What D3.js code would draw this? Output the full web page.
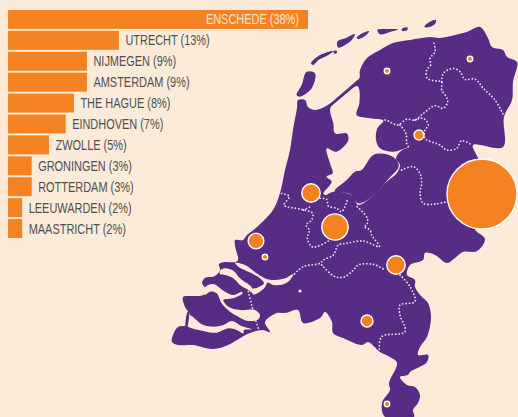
<!DOCTYPE html>
<html><head><meta charset="utf-8">
<script src="https://cdnjs.cloudflare.com/ajax/libs/d3/7.8.5/d3.min.js"></script>
<style>html,body{margin:0;padding:0;background:#fdebd9}svg{display:block}
text{font-family:"Liberation Sans",sans-serif;font-size:14.5px}</style>
</head><body><svg id="c" width="518" height="417"></svg>
<script>
// --- chart data ---
const cities = ["ENSCHEDE","UTRECHT","NIJMEGEN","AMSTERDAM","THE HAGUE","EINDHOVEN","ZWOLLE","GRONINGEN","ROTTERDAM","LEEUWARDEN","MAASTRICHT"];
const percentLabels = [38,13,9,9,8,7,5,3,3,2,2];
const shares = [38,14.05,10,10,8.35,7.3,5.2,3,3,1.8,1.8];   // bar lengths as drawn
const bubbleShares = [38,14.3,10,10,8.5,6.5,5.4,3,3,3,3];   // bubble sizes as drawn
const cityLon = [482,335,396,311,256,367,419,470,265,387,387];
const cityLat = [194,227,265,193,241,321,135,59,257,71,404];
const minorCity = [[300,291]];

// --- map geometry (each ring is in the units of its map sheet) ---
const coastMain = [[236,250],[235,245],[235,240],[243,240],[247,235],[257,227],[273,210],[280,193],[285,170],[290,150],[293,130],[297,108],[298,100],[305,100],[308,107],[315,110],[328,105],[359,79],[360,70],[367,58],[380,50],[393,43],[410,40],[430,37],[440,38],[455,35],[467,32],[480,27],[488,38],[492,47],[503,50],[507,57],[517,62],[513,82],[512,100],[504,117],[503,147],[473,145],[478,158],[482,170],[482,215],[475,229],[485,239],[477,251],[463,252],[455,258],[447,263],[435,255],[425,253],[423,260],[410,265],[407,275],[415,280],[415,287],[422,297],[428,303],[431,317],[427,337],[420,347],[418,355],[428,355],[427,362],[410,372],[408,375],[400,377],[407,385],[415,387],[420,395],[418,403],[413,410],[414,417],[385,417],[382,403],[390,390],[389,383],[397,363],[390,357],[380,352],[368,342],[362,345],[343,338],[333,333],[332,322],[325,312],[320,318],[303,323],[298,310],[285,313],[277,313],[265,322],[270,332],[262,330],[250,333],[242,337],[228,345],[213,349],[193,345],[178,345],[172,342],[173,335],[178,327],[187,325],[190,315],[185,307],[183,297],[190,296],[203,295],[205,288],[202,283],[205,278],[215,276],[220,270],[219,264],[225,262],[235,262],[238,260]];
const ijsselmeer = [[122,50],[202,-12],[208,0],[208,40],[200,75],[240,85],[280,92],[262,115],[258,150],[270,175],[310,185],[358,170],[330,185],[318,205],[330,225],[320,250],[290,275],[262,305],[240,325],[205,345],[190,320],[170,310],[130,305],[105,315],[100,310],[125,275],[110,260],[128,250],[120,220],[110,175],[140,185],[175,150],[170,130],[135,130],[130,100]];
const afsluitdijk = [[83,287],[175,208],[181,215],[90,292]];
const flevoland = [[135,300],[170,270],[195,245],[215,240],[250,195],[290,193],[320,210],[326,230],[294,268],[274,293],[244,322],[205,340],[180,312],[135,305]];
const texel = [[-10,255],[5,225],[20,185],[45,190],[35,235],[0,260]];
const vlieland = [[33,160],[60,135],[100,123],[85,135],[55,150],[40,165]];
const griend = [[100,124],[110,122],[110,130],[102,130]];
const terschelling = [[112,95],[135,85],[165,72],[155,90],[135,105],[115,113]];
const ameland = [[170,83],[190,68],[208,63],[195,78],[175,87]];
const schier = [[232,60],[260,57],[295,58],[270,66],[240,73]];
const rottum = [[305,57],[322,52],[322,60],[307,63]];
const borkum = [[373,50],[390,35],[408,30],[405,42],[385,52]];
const deltaWater = [
  [[195,38],[225,45],[260,70],[290,87],[315,90],[345,85],[370,72],[360,90],[340,103],[310,105],[292,98],[285,112],[262,130],[250,133],[245,118],[262,113],[282,100],[270,85],[245,70],[205,50]],
  [[150,62],[165,55],[190,62],[210,85],[245,112],[250,130],[235,120],[210,105],[190,85],[165,75],[150,72]],
  [[100,132],[105,112],[130,102],[160,122],[190,135],[215,125],[218,130],[190,145],[160,150],[175,170],[210,180],[255,180],[270,195],[262,210],[230,212],[205,200],[180,185],[155,160],[140,130],[120,125],[105,135]],
  [[55,192],[65,198],[100,225],[130,230],[160,225],[185,213],[215,228],[245,238],[222,240],[220,250],[200,240],[175,235],[140,248],[100,243],[48,224]]
];
const deltaCauseway = [[53,185],[57,185],[51,232],[47,232]];
const bordersNorth = [
  [[402,100],[405,125],[390,145],[392,165],[380,180],[382,205],[410,213],[425,215],[425,240],[440,262],[443,275],[430,295],[405,287],[370,310],[345,330],[320,328],[300,342],[290,345],[258,330],[250,330]],
  [[425,215],[430,190],[460,175],[480,185],[495,208],[525,207],[550,235],[585,270],[612,318]],
  [[300,345],[318,370],[320,400],[325,410]],
  [[345,330],[370,325],[385,345],[375,360],[375,385],[420,405],[440,420],[470,415],[485,392],[515,405]],
  [[305,480],[340,470],[360,490],[365,520],[360,550],[370,580],[405,582],[440,575]]
];
const bordersMiddle = [
  [[35,70],[58,80],[42,105],[95,118],[128,130],[125,150],[108,165],[118,180],[112,205],[125,230],[140,230],[175,213]],
  [[100,120],[125,108]],
  [[150,85],[170,88],[175,108],[200,115],[215,125],[232,90]],
  [[262,110],[292,145],[290,165],[282,170],[300,180],[305,195],[328,230],[280,213],[230,220],[205,225],[190,255],[160,270],[150,280],[100,290],[70,315]],
  [[155,285],[195,320],[225,320],[250,300],[265,285],[310,283],[345,300]]
];
const bordersSouth = [
  [[300,225],[305,230],[330,260],[345,305],[300,315],[300,345],[315,395],[245,410],[238,450]]
];
const bordersDelta = [
  [[235,125],[245,165],[255,205],[265,235]]
];

// --- drawing ---
const W = 518, H = 417, BG = "#fdebd9", PURPLE = "#562c85", ORANGE = "#f58220";
const svg = d3.select("#c");
svg.append("rect").attr("width",W).attr("height",H).attr("fill",BG);

function sheet(x0,y0,k,curve){
  const sx = d3.scaleLinear().domain([0,1]).range([x0,x0+k]);
  const sy = d3.scaleLinear().domain([0,1]).range([y0,y0+k]);
  return d3.line().x(d=>sx(d[0])).y(d=>sy(d[1])).curve(curve);
}
const closed = d3.curveCatmullRomClosed.alpha(0.5), open = d3.curveCatmullRom.alpha(0.5);
const lineMap   = sheet(0,0,1,closed);
const lineNorth = sheet(300,10,1/3,closed);
const lineNorthStraight = sheet(300,10,1/3,d3.curveLinearClosed);
const lineLake  = sheet(290,90,1/3,closed);
const lineDelta = sheet(170,250,1/3,closed);
const dotNorth = sheet(300,10,1/3,open), dotMid = sheet(270,170,1/3,open),
      dotSouth = sheet(300,200,1/3,open), dotDelta = sheet(170,250,1/3,open);
const map = svg.append("g");
const fillRing = (gen,pts,col)=>map.append("path").attr("d",gen(pts)).attr("fill",col);

fillRing(lineMap,coastMain,PURPLE);
fillRing(lineLake,ijsselmeer,BG);
fillRing(lineLake,flevoland,PURPLE);
fillRing(lineNorthStraight,afsluitdijk,PURPLE);
[texel,vlieland,griend,terschelling,ameland,schier,rottum,borkum].forEach(r=>fillRing(lineNorth,r,PURPLE));
deltaWater.forEach(r=>fillRing(lineDelta,r,BG));
fillRing(lineDelta,deltaCauseway,PURPLE);

const dotted = (gen,pts)=>map.append("path").attr("d",gen(pts)).attr("fill","none")
  .attr("stroke","#efe6ef").attr("stroke-width",1.8).attr("stroke-linecap","round").attr("stroke-dasharray","0 3.4");
bordersNorth.forEach(r=>dotted(dotNorth,r));
bordersMiddle.forEach(r=>dotted(dotMid,r));
bordersSouth.forEach(r=>dotted(dotSouth,r));
bordersDelta.forEach(r=>dotted(dotDelta,r));

const rScale = d3.scaleLinear().domain([0,38]).range([0,35]);
const order = d3.range(cities.length);
svg.append("g").selectAll("circle").data(order).join("circle")
  .attr("cx",i=>cityLon[i]).attr("cy",i=>cityLat[i]).attr("r",i=>rScale(bubbleShares[i]))
  .attr("fill",ORANGE).attr("stroke","#fff").attr("stroke-width",1.4);
svg.append("g").selectAll("circle").data(minorCity).join("circle")
  .attr("cx",d=>d[0]).attr("cy",d=>d[1]).attr("r",1.6).attr("fill","#f4eef5");

const xBar = d3.scaleLinear().domain([0,38]).range([8,308]);
const yBar = d3.scaleBand().domain(cities).range([10,238]).paddingInner(2/21).paddingOuter(0);
svg.append("g").selectAll("rect").data(order).join("rect")
  .attr("x",xBar(0)).attr("y",i=>yBar(cities[i])).attr("width",i=>xBar(shares[i])-xBar(0)).attr("height",yBar.bandwidth())
  .attr("fill",ORANGE);
svg.append("g").selectAll("text").data(order).join("text")
  .attr("x",i=>i===0?xBar(shares[i])-9:xBar(shares[i])+6.5)
  .attr("y",i=>yBar(cities[i])+yBar.bandwidth()/2+5)
  .attr("text-anchor",i=>i===0?"end":"start")
  .attr("fill",i=>i===0?"#fde6cf":"#4f4f52")
  .text(i=>`${cities[i]} (${percentLabels[i]}%)`)
  .each(function(){ this.setAttribute("textLength",(this.getComputedTextLength()*0.755).toFixed(1));
                    this.setAttribute("lengthAdjust","spacingAndGlyphs"); });
</script></body></html>
